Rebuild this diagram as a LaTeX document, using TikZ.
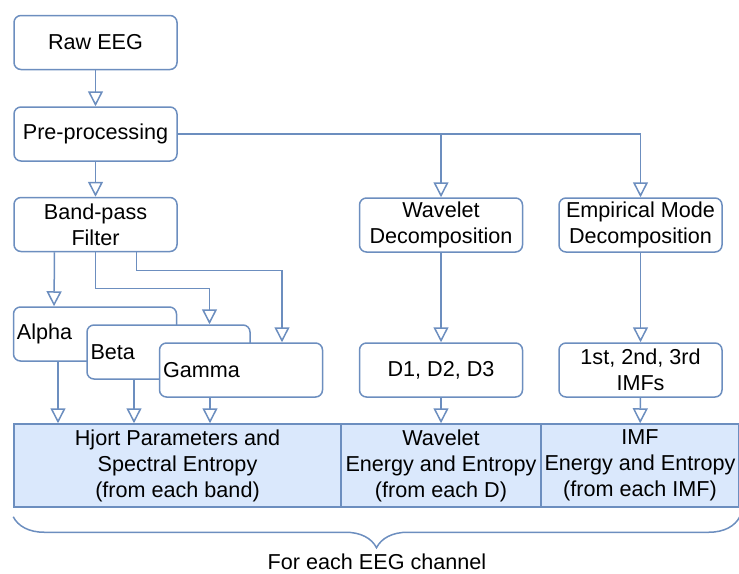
\documentclass[tikz,border=0pt]{standalone}
\usepackage{fontspec}
\setmainfont{Liberation Sans}
\usepackage{tikz}
\usetikzlibrary{arrows.meta,decorations.pathreplacing}
\definecolor{blueline}{HTML}{6C8EBF}
\definecolor{bluefill}{HTML}{DAE8FC}

\begin{document}
\begin{tikzpicture}[
    x=0.5pt,y=-0.5pt,
    every node/.style={font=\fontsize{10.8}{13}\selectfont},
    box/.style={draw=blueline,line width=0.75pt,rounded corners=3.5pt,fill=white,
                minimum width=81.5pt,minimum height=27pt,
                align=center,inner sep=1pt},
    band/.style={draw=blueline,line width=0.75pt,rounded corners=3.5pt,fill=white,
                 text width=78pt,minimum height=27pt,
                 align=left,inner xsep=1.75pt,inner ysep=1pt},
    cell/.style={draw=blueline,line width=0.75pt,fill=bluefill,
                 minimum height=41.5pt,align=center,inner sep=0pt},
    arr/.style={-{Triangle[fill=white,length=7.5pt,width=7.5pt]},line width=0.75pt,draw=blueline},
  ]
  \useasboundingbox (0,0) rectangle (739,573);

  \node[box] (raw) at (95.5,42.5) {Raw EEG};
  \node[box] (pre) at (95.5,134) {Pre-processing};
  \node[box] (bpf) at (95.5,224.5) {Band-pass\\Filter};
  \node[box] (wav) at (441,225) {Wavelet\\Decomposition};
  \node[box] (emd) at (640.5,225) {Empirical Mode\\Decomposition};

  \node[band] (alpha) at (95,334) {Alpha};
  \node[band] (beta) at (168.5,352) {Beta};
  \node[band] (gamma) at (241,370) {Gamma};

  \node[box] (dlev) at (441,370) {D1, D2, D3};
  \node[box] (imfs) at (640.5,370) {1st, 2nd, 3rd\\IMFs};

  \node[cell,minimum width=163.5pt] (hjort) at (177.5,465.5)
    {Hjort Parameters and\\Spectral Entropy\\(from each band)};
  \node[cell,minimum width=100pt] (wen) at (441,465.5)
    {Wavelet\\Energy and Entropy\\(from each D)};
  \node[cell,minimum width=99pt] (ien) at (640,465.5)
    {IMF\\Energy and Entropy\\(from each IMF)};

  \draw[arr] (raw) -- (pre);
  \draw[arr] (pre) -- (bpf);
  \draw[arr] (pre.east) -| (emd.north);
  \draw[arr] (pre.east -| wav.north) -- (wav.north);
  \draw[arr] (wav) -- (dlev);
  \draw[arr] (emd) -- (imfs);
  \draw[arr] (dlev) -- (wen);
  \draw[arr] (imfs) -- (ien);

  \draw[arr] ([xshift=-20.5pt]bpf.south) -- ([xshift=-20.5pt]alpha.north);
  \draw[arr] (bpf.south) -- ++(0,36) -| ([xshift=20.5pt]beta.north);
  \draw[arr] ([xshift=20.5pt]bpf.south) -- ++(0,18) -| ([xshift=20.5pt]gamma.north);

  \draw[arr] ([xshift=-18.5pt]alpha.south) -- ([xshift=-18.5pt]alpha.south |- hjort.north);
  \draw[arr] ([xshift=-17.25pt]beta.south) -- ([xshift=-17.25pt]beta.south |- hjort.north);
  \draw[arr] ([xshift=-15.5pt]gamma.south) -- ([xshift=-15.5pt]gamma.south |- hjort.north);

  \draw[blueline,line width=0.75pt,decorate,decoration={brace,mirror,amplitude=15.5pt}]
    ([yshift=-4.5pt]hjort.south west) -- ([yshift=-4.5pt]ien.south east);
  \node (chan) at (377,562) {For each EEG channel};
\end{tikzpicture}
\end{document}
